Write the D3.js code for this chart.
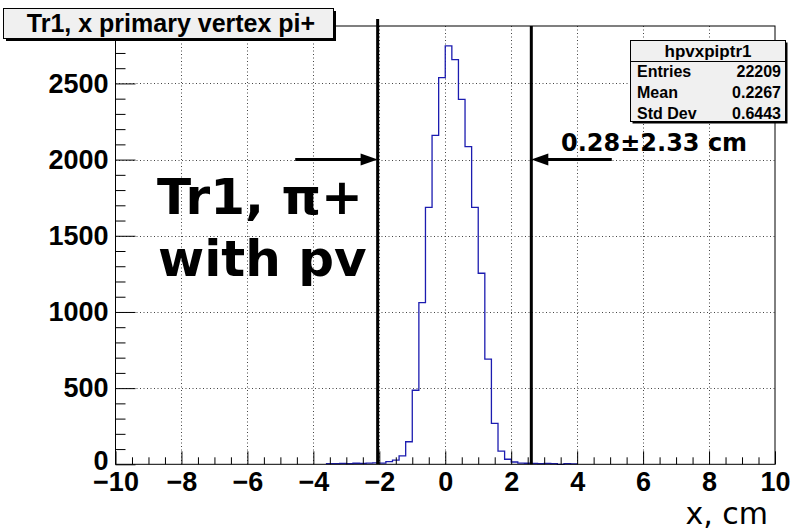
<!DOCTYPE html>
<html>
<head>
<meta charset="utf-8">
<script src="https://cdn.jsdelivr.net/npm/d3@7"></script>
<style>
	body { margin: 0; background: #fff; }
	svg { display: block; }
	.tick text { font-family: "Liberation Sans", Arial, sans-serif; font-weight: bold; }
</style>
</head>
<body>
<svg id="chart" width="791" height="531"></svg>
<script>
// histogram bins (low edges, width 0.2) and counts
const binLowEdges = [
	-3.6, -3.4, -3.2, -3.0, -2.8, -2.6, -2.4, -2.2, -2.0, -1.8,
	-1.6, -1.4, -1.2, -1.0, -0.8, -0.6, -0.4, -0.2, 0.0, 0.2,
	0.4, 0.6, 0.8, 1.0, 1.2, 1.4, 1.6, 1.8, 2.0, 2.2,
	2.4, 2.6, 2.8, 3.0, 3.2, 3.4, 3.6, 3.8
];
const binCounts = [
	4, 5, 6, 5, 7, 6, 8, 9, 8, 17,
	28, 55, 148, 486, 1061, 1687, 2159, 2538, 2746, 2656,
	2396, 2085, 1687, 1254, 691, 269, 87, 33, 15, 8,
	7, 6, 5, 6, 5, 0, 4, 3
];
const binWidth = 0.2;

const xTicks = [-10, -8, -6, -4, -2, 0, 2, 4, 6, 8, 10];
const yTicks = [0, 500, 1000, 1500, 2000, 2500];
const cutLines = [-2.05, 2.61];

const titleText = 'Tr1, x primary vertex pi+';
const statsName = 'hpvxpiptr1';
const statsLabels = ['Entries', 'Mean', 'Std Dev'];
const statsValues = ['22209', '0.2267', '0.6443'];

const svg = d3.select('#chart'),
	frame = {left: 115.5, right: 775, top: 26, bottom: 464.3};

const x = d3.scaleLinear().domain([-10, 10]).range([frame.left, frame.right]),
	y = d3.scaleLinear().domain([0, 2877]).range([frame.bottom, frame.top]);

// grid
const grid = svg.append('g')
	.attr('stroke', '#444')
	.attr('stroke-width', 1)
	.attr('stroke-dasharray', '1,2.5');
grid.selectAll('line.gx')
	.data(xTicks.slice(1, -1))
	.enter().append('line')
	.attr('x1', d => Math.round(x(d)) + 0.5).attr('x2', d => Math.round(x(d)) + 0.5)
	.attr('y1', frame.top).attr('y2', frame.bottom);
grid.selectAll('line.gy')
	.data(yTicks.slice(1))
	.enter().append('line')
	.attr('y1', d => Math.round(y(d)) + 0.5).attr('y2', d => Math.round(y(d)) + 0.5)
	.attr('x1', frame.left).attr('x2', frame.right);

// histogram outline
const pts = [];
binLowEdges.forEach((lo, i) => {
	pts.push([lo, binCounts[i]]);
	pts.push([lo + binWidth, binCounts[i]]);
});
pts.unshift([binLowEdges[0], 0]);
pts.push([binLowEdges[binLowEdges.length - 1] + binWidth, 0]);

const line = d3.line()
	.x(d => x(d[0]))
	.y(d => y(d[1]));

svg.append('path')
	.datum(pts)
	.attr('fill', 'none')
	.attr('stroke', '#1c1cb0')
	.attr('stroke-width', 1.3)
	.attr('d', line);

// axes
const xAxis = d3.axisBottom(x)
	.tickValues(xTicks)
	.tickSizeInner(-13)
	.tickSizeOuter(0)
	.tickPadding(8);
const xMinor = d3.axisBottom(x)
	.tickValues(d3.range(-10, 10.01, 0.5).filter(v => Math.abs(v % 2) > 0.01))
	.tickSizeInner(-7)
	.tickSizeOuter(0)
	.tickFormat('');

const gx = svg.append('g')
	.attr('transform', `translate(0, ${frame.bottom})`)
	.call(xAxis);
gx.selectAll('text').attr('font-size', 27).attr('fill', '#000');
svg.append('g')
	.attr('transform', `translate(0, ${frame.bottom})`)
	.call(xMinor);

const yAxis = d3.axisLeft(y)
	.tickValues(yTicks)
	.tickFormat(d3.format('d'))
	.tickSizeInner(-20)
	.tickSizeOuter(0)
	.tickPadding(7);
const yMinor = d3.axisLeft(y)
	.tickValues(d3.range(100, 2877, 100).filter(v => v % 500 !== 0))
	.tickSizeInner(-10)
	.tickSizeOuter(0)
	.tickFormat('');

const gy = svg.append('g')
	.attr('transform', `translate(${frame.left}, 0)`)
	.call(yAxis);
gy.selectAll('text').attr('font-size', 27).attr('fill', '#000');
gy.selectAll('.tick').filter(d => d === 0).select('text').attr('dy', '0.2em');
svg.append('g')
	.attr('transform', `translate(${frame.left}, 0)`)
	.call(yMinor);

svg.selectAll('.domain').remove();
svg.selectAll('.tick line').attr('stroke', '#000');

// frame
svg.append('rect')
	.attr('x', frame.left).attr('y', frame.top)
	.attr('width', frame.right - frame.left)
	.attr('height', frame.bottom - frame.top)
	.attr('fill', 'none')
	.attr('stroke', '#000')
	.attr('stroke-width', 1);

// axis title
svg.append('text')
	.attr('x', 768).attr('y', 524)
	.attr('text-anchor', 'end')
	.attr('font-family', 'DejaVu Sans')
	.attr('font-size', 30)
	.text('x, cm');

// cut lines
svg.selectAll('line.cut')
	.data(cutLines)
	.enter().append('line')
	.attr('x1', d => x(d)).attr('x2', d => x(d))
	.attr('y1', (d, i) => i === 0 ? 19 : frame.top)
	.attr('y2', frame.bottom)
	.attr('stroke', '#000')
	.attr('stroke-width', 3);

// arrows
const arrowY = 159.5;
const arrows = [
	{from: -4.55, to: cutLines[0]},
	{from: 5.05, to: cutLines[1]}
];
arrows.forEach(a => {
	const x0 = x(a.from), x1 = x(a.to), dir = Math.sign(x1 - x0);
	svg.append('line')
		.attr('x1', x0).attr('x2', x1 - dir * 12)
		.attr('y1', arrowY).attr('y2', arrowY)
		.attr('stroke', '#000')
		.attr('stroke-width', 3);
	svg.append('path')
		.attr('d', `M${x1},${arrowY} L${x1 - dir * 17},${arrowY - 6} L${x1 - dir * 17},${arrowY + 6} Z`)
		.attr('fill', '#000');
});

svg.append('text')
	.attr('x', 561).attr('y', 151)
	.attr('font-family', 'DejaVu Sans')
	.attr('font-weight', 'bold')
	.attr('font-size', 24)
	.text('0.28±2.33 cm');

const bigLabel = svg.append('text')
	.attr('font-family', 'DejaVu Sans')
	.attr('font-weight', 'bold')
	.attr('font-size', 50);
bigLabel.append('tspan').attr('x', 157).attr('y', 214).text('Tr1, π+');
bigLabel.append('tspan').attr('x', 158).attr('y', 276).text('with pv');

// title box
svg.append('rect')
	.attr('x', 6).attr('y', 11).attr('width', 330).attr('height', 30)
	.attr('fill', '#000');
svg.append('rect')
	.attr('x', 3.5).attr('y', 8.5).attr('width', 330).attr('height', 30)
	.attr('fill', '#f0f0f0')
	.attr('stroke', '#000');
svg.append('text')
	.attr('x', 171).attr('y', 31.5)
	.attr('text-anchor', 'middle')
	.attr('font-family', 'Liberation Sans')
	.attr('font-weight', 'bold')
	.attr('font-size', 25)
	.text(titleText);

// stats box
const sb = {x: 630.5, y: 40.5, w: 155, h: 81};
svg.append('rect')
	.attr('x', sb.x + 2).attr('y', sb.y + 2).attr('width', sb.w).attr('height', sb.h)
	.attr('fill', '#000');
svg.append('rect')
	.attr('x', sb.x).attr('y', sb.y).attr('width', sb.w).attr('height', sb.h)
	.attr('fill', '#f0f0f0')
	.attr('stroke', '#000');
svg.append('line')
	.attr('x1', sb.x).attr('x2', sb.x + sb.w)
	.attr('y1', 61.5).attr('y2', 61.5)
	.attr('stroke', '#000');

const statsFont = t => t
	.attr('font-family', 'Liberation Sans')
	.attr('font-weight', 'bold')
	.attr('font-size', 16);

svg.append('text')
	.attr('x', sb.x + sb.w / 2).attr('y', 56.5)
	.attr('text-anchor', 'middle')
	.attr('font-size', 17)
	.call(statsFont)
	.attr('font-size', 17)
	.text(statsName);

const rowY = [77, 98, 119];
svg.selectAll('text.slab')
	.data(statsLabels)
	.enter().append('text')
	.attr('x', 637).attr('y', (d, i) => rowY[i])
	.call(statsFont)
	.text(d => d);
svg.selectAll('text.sval')
	.data(statsValues)
	.enter().append('text')
	.attr('x', 781).attr('y', (d, i) => rowY[i])
	.attr('text-anchor', 'end')
	.call(statsFont)
	.text(d => d);
</script>
</body>
</html>
